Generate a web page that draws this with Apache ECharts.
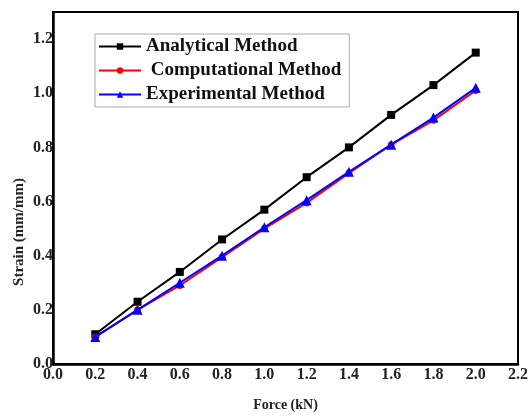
<!DOCTYPE html>
<html>
<head>
<meta charset="utf-8">
<script src="https://cdn.jsdelivr.net/npm/echarts@6/dist/echarts.min.js"></script>
<style>
html,body{margin:0;padding:0;background:#fff;}
#chart{width:531px;height:417px;}
</style>
</head>
<body>
<div id="chart"></div>
<script>
const forces = [0.2, 0.4, 0.6, 0.8, 1.0, 1.2, 1.4, 1.6, 1.8, 2.0];
const analytical = [0.11, 0.23, 0.34, 0.46, 0.57, 0.69, 0.80, 0.92, 1.03, 1.15];
const computational = [0.10, 0.20, 0.29, 0.395, 0.50, 0.595, 0.705, 0.81, 0.90, 1.01];
const experimental = [0.10, 0.20, 0.30, 0.40, 0.505, 0.605, 0.71, 0.81, 0.91, 1.02];
const seriesNames = ['Analytical Method', ' Computational Method', 'Experimental Method'];
const xName = 'Force (kN)';
const yName = 'Strain (mm/mm)';

const FONT = 'Liberation Serif';
const pairs = vals => forces.map((f, i) => [f, vals[i]]);

const chart = echarts.init(document.getElementById('chart'), null, {renderer: 'canvas'});
chart.setOption({
  animation: false,
  backgroundColor: '#fff',
  grid: {left: 53, right: 4, top: 12, bottom: 40, show: true, borderColor: '#000', borderWidth: 2, backgroundColor: 'transparent'},
  legend: {
    orient: 'vertical', left: 95, top: 34,
    itemWidth: 42, itemHeight: 8, itemGap: 5,
    padding: [3, 8, 3, 3],
    borderColor: '#aaa', borderWidth: 1,
    textStyle: {fontFamily: FONT, fontWeight: 'bold', fontSize: 19, color: '#111', lineHeight: 19},
    data: seriesNames
  },
  xAxis: {
    type: 'value', min: 0, max: 2.2, interval: 0.2,
    name: xName, nameLocation: 'middle', nameGap: 34,
    nameTextStyle: {fontFamily: FONT, fontWeight: 'bold', fontSize: 14, color: '#222'},
    axisLine: {show: true, onZero: false, lineStyle: {color: '#000', width: 2.5}},
    axisTick: {show: false},
    splitLine: {show: false},
    axisLabel: {fontFamily: FONT, fontWeight: 'bold', fontSize: 16, color: '#222', margin: 3,
      showMaxLabel: true, showMinLabel: true, formatter: v => v.toFixed(1)}
  },
  yAxis: {
    type: 'value', min: 0, max: 1.3, interval: 0.2,
    axisLine: {show: true, onZero: false, lineStyle: {color: '#000', width: 2.5}},
    axisTick: {show: false},
    splitLine: {show: false},
    axisLabel: {fontFamily: FONT, fontWeight: 'bold', fontSize: 16, color: '#222', margin: 0,
      showMaxLabel: false, showMinLabel: true, formatter: v => v.toFixed(1)}
  },
  graphic: [{
    type: 'text', x: 19, y: 232, rotation: Math.PI / 2,
    style: {text: yName, fontFamily: FONT, fontWeight: 'bold', fontSize: 15, fill: '#222',
      textAlign: 'center', textVerticalAlign: 'middle'}
  }],
  series: [
    {name: seriesNames[0], type: 'line', data: pairs(analytical), symbol: 'rect', symbolSize: 8,
      itemStyle: {color: '#000'}, lineStyle: {color: '#000', width: 2}, z: 2},
    {name: seriesNames[1], type: 'line', data: pairs(computational), symbol: 'circle', symbolSize: 7,
      itemStyle: {color: '#ff0000'}, lineStyle: {color: '#ff0000', width: 2}, z: 3},
    {name: seriesNames[2], type: 'line', data: pairs(experimental), symbol: 'triangle', symbolSize: 10,
      itemStyle: {color: '#0000ff'}, lineStyle: {color: '#0000ff', width: 2}, z: 4}
  ]
});
</script>
</body>
</html>
